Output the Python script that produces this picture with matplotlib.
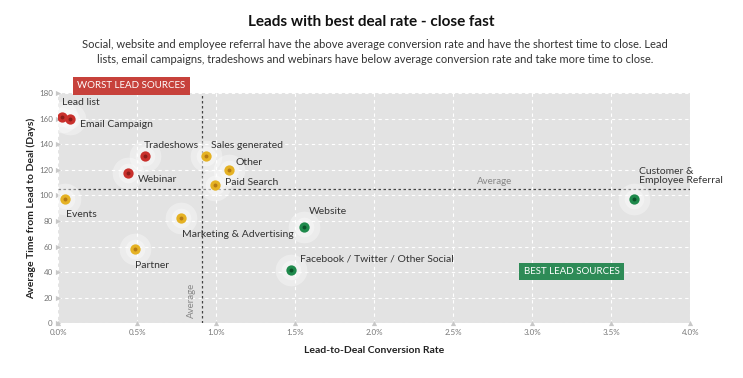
import numpy as np
import matplotlib.pyplot as plt
from matplotlib.ticker import PercentFormatter

plt.rcParams['font.family'] = ['Lato', 'DejaVu Sans']

# Lead sources
sources = ['Lead list', 'Email Campaign', 'Tradeshows', 'Webinar', 'Events',
           'Sales generated', 'Other', 'Paid Search', 'Marketing & Advertising',
           'Partner', 'Website', 'Facebook / Twitter / Other Social',
           'Customer &\nEmployee Referral']
conv_rate = [0.025, 0.072, 0.549, 0.439, 0.042, 0.937, 1.078, 0.994, 0.777,
             0.485, 1.557, 1.471, 3.642]
days = [161, 160, 130.5, 117.5, 97, 131, 120, 108, 82.5, 58, 75.5, 41.5, 97]
group = ['worst', 'worst', 'worst', 'worst', 'mid', 'mid', 'mid', 'mid', 'mid',
         'mid', 'best', 'best', 'best']
avg_rate = 0.91
avg_days = 105

# label offsets (pixels)
offsets = [(0, 15), (10, -6), (-1, 11), (10, -7), (1, -15), (5, 10), (7, 7),
           (10, 3), (1, -17), (0, -16), (5, 15), (9, 11), (5, 23)]

fill = {'worst': '#c9302c', 'mid': '#e5b224', 'best': '#1f8a4c'}
core = {'worst': '#8a1c19', 'mid': '#b57a14', 'best': '#0b532a'}

W, H = 743, 378
fig = plt.figure(figsize=(W / 100, H / 100), dpi=100)
ax = fig.add_axes([58.3 / W, 1 - 323.3 / H, 632 / W, 230.3 / H])
ax.set_facecolor('#e3e3e3')
ax.set_xlim(0, 4.0)
ax.set_ylim(0, 180)
ax.set_xticks(np.arange(0, 4.01, 0.5))
ax.set_yticks(np.arange(0, 181, 20))
ax.xaxis.set_major_formatter(PercentFormatter(decimals=1))
ax.grid(color='white', linestyle=(0, (3, 3)), linewidth=0.8)
ax.set_axisbelow(True)
for s in ax.spines.values():
    s.set_visible(False)
ax.tick_params(length=0, labelsize=5.8, colors='#777777', pad=4)

# little triangle tick marks
ax.scatter(np.zeros(10), np.arange(0, 181, 20), marker='>', s=14, color='#c8c8c8',
           clip_on=False, zorder=2, linewidths=0)
ax.scatter(np.arange(0, 4.01, 0.5), np.zeros(9), marker='^', s=14, color='#c8c8c8',
           clip_on=False, zorder=2, linewidths=0)

# averages
ax.axvline(avg_rate, color='#444444', linestyle=(0, (2, 2)), linewidth=0.9, zorder=3)
ax.axhline(avg_days, color='#444444', linestyle=(0, (2, 2)), linewidth=0.9, zorder=3)
ax.text(2.76, avg_days + 2, 'Average', color='#888888', fontsize=7, ha='center', va='bottom')
ax.text(avg_rate - 0.04, 18, 'Average', color='#888888', fontsize=7, rotation=90,
        ha='right', va='center')

for x, y, g, name, (dx, dy) in zip(conv_rate, days, group, sources, offsets):
    ax.scatter(x, y, s=520, color='white', alpha=0.35, linewidths=0, zorder=4)
    ax.scatter(x, y, s=200, color='white', alpha=0.35, linewidths=0, zorder=4)
    ax.scatter(x, y, s=55, color=fill[g], linewidths=0, zorder=5)
    ax.scatter(x, y, s=8, color=core[g], linewidths=0, zorder=6)
    ax.annotate(name, (x, y), xytext=(dx, dy), textcoords='offset pixels',
                fontsize=7.5, color='#333333', ha='left', va='center',
                linespacing=1.0, zorder=7)

ax.set_xlabel('Lead-to-Deal Conversion Rate', fontsize=7.5, fontweight='bold',
              color='#222222', labelpad=7)
ax.set_ylabel('Average Time from Lead to Deal (Days)', fontsize=7.5, fontweight='bold',
              color='#222222', labelpad=2)

fig.text(371 / W, 1 - 22 / H, 'Leads with best deal rate - close fast', ha='center',
         va='center', fontsize=11, fontweight='bold', color='#111111')
fig.text(375 / W, 1 - 52 / H,
         'Social, website and employee referral have the above average conversion rate and have the shortest time to close. Lead\n'
         'lists, email campaigns, tradeshows and webinars have below average conversion rate and take more time to close.',
         ha='center', va='center', fontsize=8, color='#333333', linespacing=1.55)

fig.text(131 / W, 1 - 86 / H, 'WORST LEAD SOURCES', ha='center', va='center',
         fontsize=7, color='white',
         bbox=dict(boxstyle='square,pad=0.45', fc='#c7413b', ec='none'))
ax.text(3.25, 40.5, 'BEST LEAD SOURCES', ha='center', va='center',
        fontsize=7, color='white',
        bbox=dict(boxstyle='square,pad=0.45', fc='#2e8b57', ec='none'))

fig.savefig('out.png', dpi=100, facecolor='white')
